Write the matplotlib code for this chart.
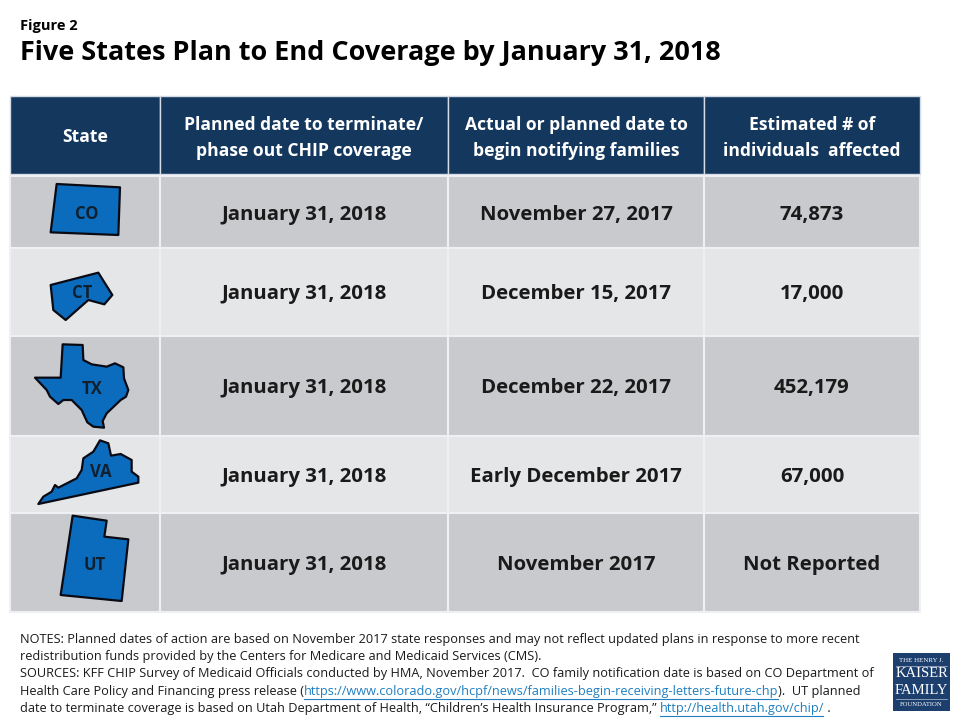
import matplotlib
matplotlib.use("Agg")
import matplotlib.pyplot as plt
from matplotlib.patches import Polygon, Rectangle

FONT = "Open Sans"
plt.rcParams['font.family'] = [FONT, 'DejaVu Sans']

# Table contents
headers = [["State"], ["Planned date to terminate/", "phase out CHIP coverage"],
           ["Actual or planned date to", "begin notifying families"],
           ["Estimated # of", "individuals  affected"]]
states = ["CO", "CT", "TX", "VA", "UT"]
terminate_dates = ["January 31, 2018"] * 5
notify_dates = ["November 27, 2017", "December 15, 2017", "December 22, 2017",
                "Early December 2017", "November 2017"]
affected = ["74,873", "17,000", "452,179", "67,000", "Not Reported"]

# State outlines, traced in pixels off the zoomed picture: (x*3, y*3) + offset
outlines = {
    "CO": ((0, 170), [(170, 42), (360, 52), (355, 195), (152, 187)]),
    "CT": ((0, 170), [(152, 345), (295, 308), (337, 375), (313, 403), (265, 390),
                      (197, 450), (160, 420)]),
    "TX": ((0, 335), [(188, 28), (248, 30), (250, 75), (275, 88), (320, 95), (345, 85),
                      (370, 97), (372, 130), (385, 165), (378, 185), (362, 195), (320, 235),
                      (308, 258), (312, 278), (280, 275), (262, 262), (245, 225), (215, 195),
                      (190, 195), (175, 207), (150, 185), (140, 165), (105, 128), (182, 128)]),
    "VA": ((0, 335), [(300, 316), (325, 325), (333, 362), (362, 357), (395, 375), (395, 410),
                      (415, 425), (415, 443), (115, 507), (130, 485), (155, 470), (165, 450),
                      (175, 458), (230, 430), (245, 405), (250, 370), (280, 350)]),
    "UT": ((0, 500), [(218, 47), (320, 62), (313, 110), (385, 118), (365, 303), (182, 285)]),
}
state_label_pos = {"CO": (87, 214), "CT": (82, 293), "TX": (92, 389), "VA": (101, 472), "UT": (95, 565)}

# Footnote lines, pieces flagged True are links
LINK = "#1f7fc0"
notes = [
    [("NOTES: Planned dates of action are based on November 2017 state responses and may not reflect updated plans in response to more recent", False)],
    [("redistribution funds provided by the Centers for Medicare and Medicaid Services (CMS).", False)],
    [("SOURCES: KFF CHIP Survey of Medicaid Officials conducted by HMA, November 2017.  CO family notification date is based on CO Department of", False)],
    [("Health Care Policy and Financing press release (", False),
     ("https://www.colorado.gov/hcpf/news/families-begin-receiving-letters-future-chp", True),
     (").  UT planned", False)],
    [("date to terminate coverage is based on Utah Department of Health, \u201cChildren\u2019s Health Insurance Program,\u201d ", False),
     ("http://health.utah.gov/chip/", True), (" .", False)],
]

# Layout in pixels
col_edges = [10, 160, 448, 704, 920]
row_edges = [96, 176, 248, 336, 436, 513, 612]
cell_baselines = [220, 299, 393, 482, 570]
row_colors = ["#c9cacd", "#e5e6e8", "#c9cacd", "#e5e6e8", "#c9cacd"]
HEADER = "#14375e"
TEXT = "#1a1a1a"

fig = plt.figure(figsize=(9.6, 7.2), dpi=100)
ax = fig.add_axes([0, 0, 1, 1])
ax.set_xlim(0, 960)
ax.set_ylim(720, 0)
ax.axis("off")

ax.text(20, 26, "Figure 2", fontsize=10.5, fontweight="bold", color="black", va="center")
ax.text(20, 53, "Five States Plan to End Coverage by January 31, 2018", fontsize=19.45,
        fontweight="bold", color="black", va="center")

# Header row
for i, label in enumerate(headers):
    x0, x1 = col_edges[i], col_edges[i + 1]
    ax.add_patch(Rectangle((x0, row_edges[0]), x1 - x0, row_edges[1] - row_edges[0] - 2,
                           fc=HEADER, ec="#d5dbe3", lw=1))
    baselines = [142] if len(label) == 1 else [130, 156]
    for part, by in zip(label, baselines):
        ax.text((x0 + x1) / 2, by, part, color="white", fontsize=12.6, fontweight="bold",
                ha="center", va="baseline")

# Body rows
for r in range(5):
    y0, y1 = row_edges[r + 1], row_edges[r + 2]
    cells = ["", terminate_dates[r], notify_dates[r], affected[r]]
    for c in range(4):
        x0, x1 = col_edges[c], col_edges[c + 1]
        ax.add_patch(Rectangle((x0, y0), x1 - x0, y1 - y0, fc=row_colors[r], ec="#eef0f3", lw=1.5))
        if cells[c]:
            ax.text((x0 + x1) / 2, cell_baselines[r], cells[c], color=TEXT, fontsize=14.7,
                    fontweight="bold", ha="center", va="baseline")

# State shapes
for st in states:
    (ox, oy), pts = outlines[st]
    ax.add_patch(Polygon([(ox + x / 3, oy + y / 3) for x, y in pts], closed=True,
                         fc="#0b6cbd", ec="#0a0a14", lw=1.6, joinstyle="round", zorder=3))
    lx, ly = state_label_pos[st]
    ax.text(lx, ly, st, color="#10202f", fontsize=12, fontweight="bold",
            ha="center", va="center", zorder=4)

# Footnotes
fig.canvas.draw()
renderer = fig.canvas.get_renderer()
y = 639
for line in notes:
    x = 20
    for piece, is_link in line:
        ax.text(x, y, piece, fontsize=9.18, color=LINK if is_link else TEXT, va="center")
        # trailing spaces are not always counted, measure with a stand-in
        bb = ax.text(0, 0, piece.replace(" ", "\u00a0"), fontsize=9.18).get_window_extent(renderer)
        ax.texts[-1].remove()
        if is_link:
            ax.plot([x, x + bb.width - 1], [y + 7.5, y + 7.5], color=LINK, lw=0.8)
        x += bb.width
    y += 17.4

# Logo
ax.add_patch(Rectangle((893, 653), 57, 58, fc="#1c3f6e", ec="none"))
logo_lines = [("THE HENRY J.", 5, 660.5), ("KAISER", 10.5, 673.5), ("FAMILY", 10.5, 690), ("FOUNDATION", 4.8, 704.5)]
for label, size, ly in logo_lines:
    ax.text(921.5, ly, label, color="white", fontsize=size, family="Liberation Serif",
            ha="center", va="center")
ax.plot([896, 947], [665.5, 665.5], color="#b9c4d4", lw=0.5)
ax.plot([896, 947], [699, 699], color="#b9c4d4", lw=0.5)

fig.savefig("out.png", dpi=100, facecolor="white")
